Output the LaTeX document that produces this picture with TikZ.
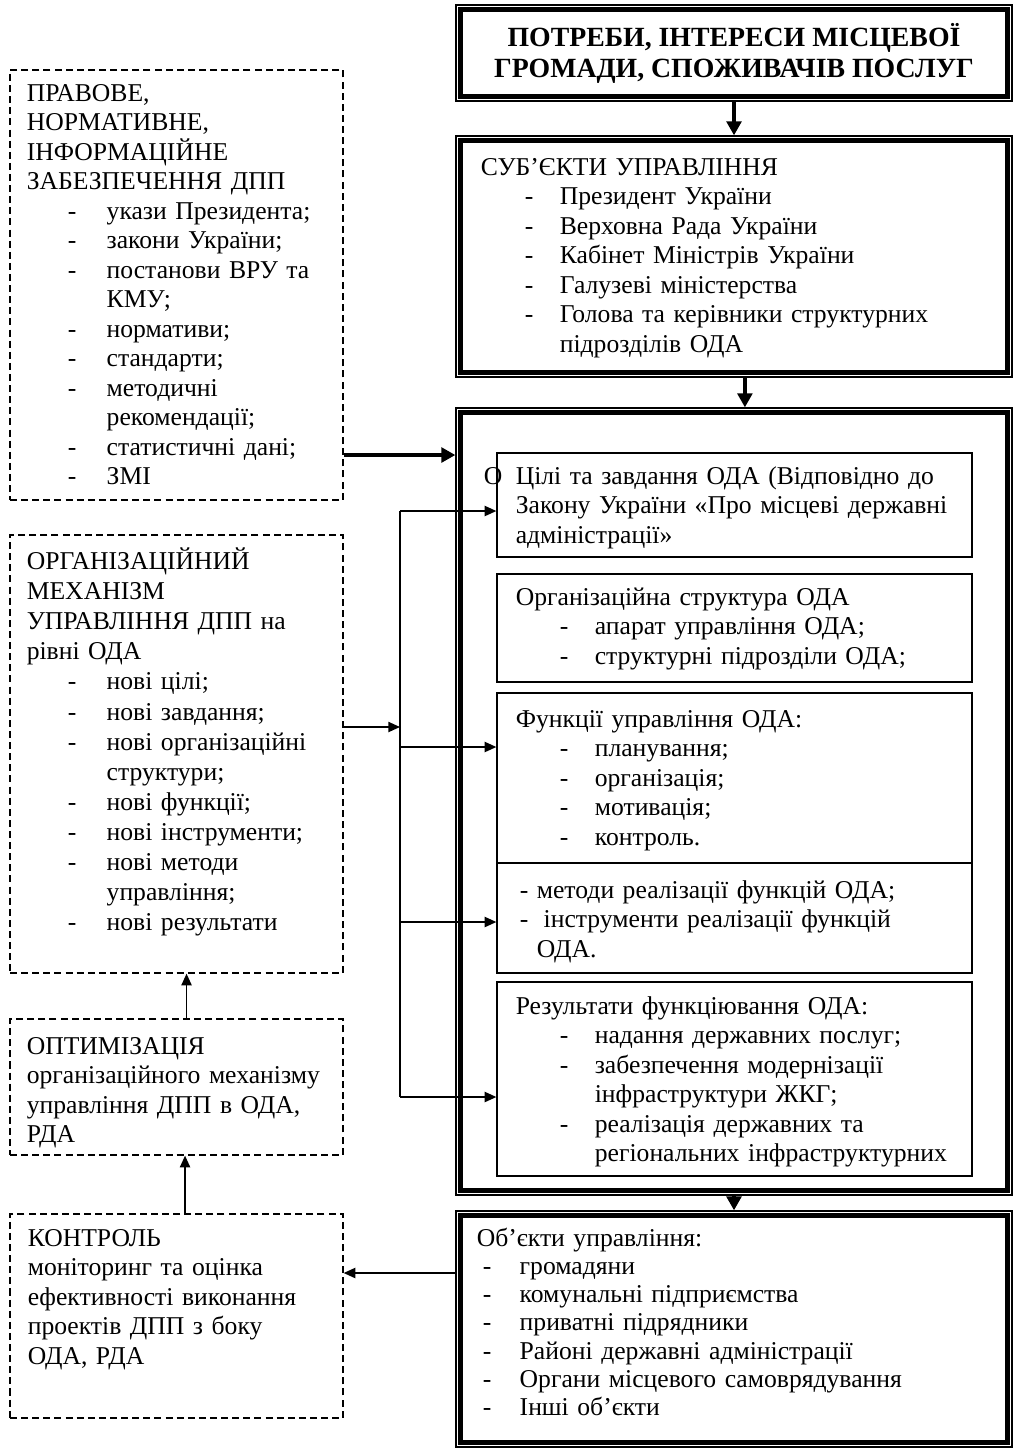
\documentclass[tikz,border=0pt]{standalone}
\usepackage{fontspec}
\setmainfont{Liberation Serif}[BoldFont={Liberation Serif Bold}]
\usetikzlibrary{arrows.meta,fit}

\newlength\dsx
\newlength\txx
\newcommand\itm[1]{\hspace*{\dsx}\makebox[\dimexpr\txx-\dsx\relax][l]{-}#1}
\newcommand\ctn[1]{\hspace*{\txx}#1}

\tikzset{
  txt/.style={anchor=base west, inner sep=0pt, text width=#1, align=left,
    font=\fontsize{12}{13.8}\selectfont},
  txt/.default=240pt,
  ind/.style 2 args={execute at begin node={\setlength\dsx{#1}\setlength\txx{#2}}},
  dbox/.style={draw, dash pattern=on 3.3pt off 1.9pt, line width=0.6pt, inner sep=0pt},
  sbox/.style={draw, line width=0.6pt, inner sep=0pt},
  tarrow/.style={-{Triangle[length=5.5pt,width=4.8pt]}, line width=0.75pt},
  barrow/.style={-{Triangle[length=6.5pt,width=6.8pt]}, line width=1.9pt}
}

\begin{document}
\begin{tikzpicture}[x=0.468pt,y=-0.468pt]
  \useasboundingbox (0,0) rectangle (1017,1450);

  % left column (dashed)
  \node[dbox, fit={(10,70) (343,500)}] (law) {};
  \node[txt=170pt, ind={19.2pt}{37.4pt}] (lawtxt) at ([shift={(17,32)}]law.north west)
    {ПРАВОВЕ,\\ НОРМАТИВНЕ,\\ ІНФОРМАЦІЙНЕ\\ ЗАБЕЗПЕЧЕННЯ ДПП\\
     \itm{укази Президента;}\\ \itm{закони України;}\\ \itm{постанови ВРУ та}\\ \ctn{КМУ;}\\
     \itm{нормативи;}\\ \itm{стандарти;}\\ \itm{методичні}\\ \ctn{рекомендації;}\\
     \itm{статистичні дані;}\\ \itm{ЗМІ}};

  \node[dbox, fit={(10,535) (343,973)}] (mech) {};
  \node[txt=170pt, ind={19.2pt}{37.4pt}, font=\fontsize{12}{14.1}\selectfont] (mechtxt)
    at ([shift={(17,35)}]mech.north west)
    {ОРГАНІЗАЦІЙНИЙ\\ МЕХАНІЗМ\\ УПРАВЛІННЯ ДПП на\\ рівні ОДА\\
     \itm{нові цілі;}\\ \itm{нові завдання;}\\ \itm{нові організаційні}\\ \ctn{структури;}\\
     \itm{нові функції;}\\ \itm{нові інструменти;}\\ \itm{нові методи}\\ \ctn{управління;}\\
     \itm{нові результати}};

  \node[dbox, fit={(10,1019) (343,1155)}] (opt) {};
  \node[txt=170pt] (opttxt) at ([shift={(17,36)}]opt.north west)
    {ОПТИМІЗАЦІЯ\\ організаційного механізму\\ управління ДПП в ОДА,\\ РДА};

  \node[dbox, fit={(10,1214) (343,1418)}] (ctrl) {};
  \node[txt=170pt] (ctrltxt) at ([shift={(18,33)}]ctrl.north west)
    {КОНТРОЛЬ\\ моніторинг та оцінка\\ ефективності виконання\\ проектів ДПП з боку\\ ОДА, РДА};

  % right column (double frames)
  \node[sbox, fit={(456,5) (1012,101)}] (needs) {};
  \node[sbox, fit={(456,136) (1012,377)}] (subj) {};
  \node[sbox, fit={(456,408) (1012,1195)}] (oda) {};
  \node[sbox, fit={(456,1211) (1012,1447)}] (obj) {};
  \foreach \b in {needs,subj,oda,obj}
    \draw[line width=2.2pt] ([shift={(5,5)}]\b.north west) rectangle ([shift={(-5,-5)}]\b.south east);

  \node[inner sep=0pt, align=center, font=\fontsize{13}{14.6}\selectfont\bfseries] (needstxt) at (needs.center)
    {ПОТРЕБИ, ІНТЕРЕСИ МІСЦЕВОЇ\\ ГРОМАДИ, СПОЖИВАЧІВ ПОСЛУГ};

  \node[txt, ind={20.6pt}{37pt}] (subjtxt) at ([shift={(25,40)}]subj.north west)
    {СУБ’ЄКТИ УПРАВЛІННЯ\\ \itm{Президент України}\\ \itm{Верховна Рада України}\\
     \itm{Кабінет Міністрів України}\\ \itm{Галузеві міністерства}\\
     \itm{Голова та керівники структурних}\\ \ctn{підрозділів ОДА}};

  \node[txt=20pt] (hid) at ([shift={(28,77)}]oda.north west) {О};

  % inner boxes
  \node[sbox, fit={(497,453) (972,557)}] (goals) {};
  \node[sbox, fit={(497,574) (972,682)}] (org) {};
  \node[sbox, fit={(497,693) (972,863)}] (funcs) {};
  \node[sbox, fit={(497,863) (972,973)}] (meth) {};
  \node[sbox, fit={(497,982) (972,1176)}] (res) {};

  \node[txt] (goalstxt) at ([shift={(19,32)}]goals.north west)
    {Цілі та завдання ОДА (Відповідно до\\ Закону України «Про місцеві державні\\ адміністрації»};
  \node[txt, ind={20.6pt}{37pt}] (orgtxt) at ([shift={(19,32)}]org.north west)
    {Організаційна структура ОДА\\ \itm{апарат управління ОДА;}\\ \itm{структурні підрозділи ОДА;}};
  \node[txt, ind={20.6pt}{37pt}] (funcstxt) at ([shift={(19,35)}]funcs.north west)
    {Функції управління ОДА:\\ \itm{планування;}\\ \itm{організація;}\\ \itm{мотивація;}\\ \itm{контроль.}};
  \node[txt, ind={0pt}{8pt}] (methtxt) at ([shift={(23,36)}]meth.north west)
    {\itm{методи реалізації функцій ОДА;}\\ \makebox[11.2pt][l]{-}інструменти реалізації функцій\\ \ctn{ОДА.}};
  \node[txt, ind={20.6pt}{37pt}] (restxt) at ([shift={(19,33)}]res.north west)
    {Результати функціювання ОДА:\\ \itm{надання державних послуг;}\\ \itm{забезпечення модернізації}\\
     \ctn{інфраструктури ЖКГ;}\\ \itm{реалізація державних та}\\ \ctn{регіональних інфраструктурних}};

  \node[txt, ind={2.8pt}{20.1pt}, font=\fontsize{12}{13.2}\selectfont] (objtxt)
    at ([shift={(21,36)}]obj.north west)
    {Об’єкти управління:\\ \itm{громадяни}\\ \itm{комунальні підприємства}\\ \itm{приватні підрядники}\\
     \itm{Районі державні адміністрації}\\ \itm{Органи місцевого самоврядування}\\ \itm{Інші об’єкти}};

  % connectors
  \draw[barrow] (needs.south) -- (subj.north);
  \draw[barrow] ([xshift=5.1pt]subj.south) -- ([xshift=5.1pt]oda.north);
  \draw[barrow] (oda.south) -- (obj.north);
  \draw[barrow] (law.east |- 0,455) -- (oda.west |- 0,455);

  \coordinate (bustop) at (400,511);
  \coordinate (busbot) at (400,1097);
  \draw[line width=0.75pt] (bustop) -- (busbot);
  \draw[tarrow] (mech.east |- 0,727) -- (bustop |- 0,727);
  \foreach \t/\y in {goals/511,funcs/747,meth/922,res/1097}
    \draw[tarrow] (bustop |- 0,\y) -- (\t.west |- 0,\y);

  \draw[tarrow] ([xshift=4.7pt]opt.north) -- ([xshift=4.7pt]mech.south);
  \draw[tarrow] ([xshift=4pt]ctrl.north) -- ([xshift=4pt]opt.south);
  \draw[tarrow] (obj.west |- 0,1273) -- (ctrl.east |- 0,1273);
\end{tikzpicture}
\end{document}
